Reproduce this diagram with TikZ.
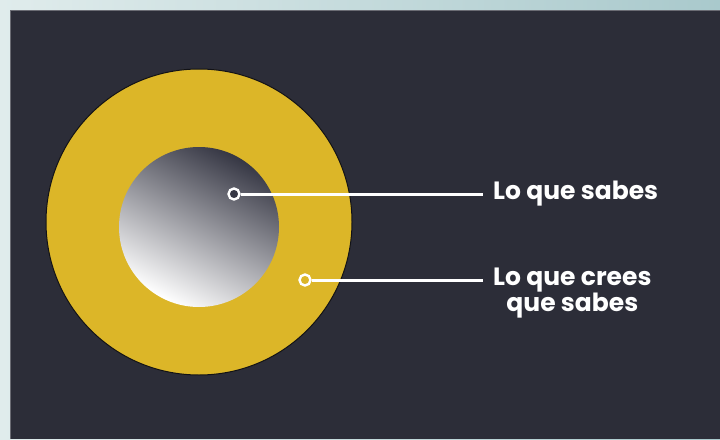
\documentclass[tikz,border=0pt]{standalone}
\usepackage{fontspec}
\newfontfamily\tagfont{Poppins}
\usetikzlibrary{positioning}

\definecolor{panel}{HTML}{2C2D38}
\definecolor{ring}{HTML}{DCB628}
\definecolor{core}{HTML}{363744}
\definecolor{frameA}{HTML}{E0ECEC}
\definecolor{frameB}{HTML}{A9C9CC}

\tikzset{
  markdot/.style={circle, draw=white, line width=2.4pt, fill=#1, inner sep=0pt, minimum size=11pt},
  leadline/.style={white, line width=3pt},
  labeltext/.style={text=white, font=\tagfont\bfseries\fontsize{25}{24}\selectfont, align=center, inner sep=0pt}
}

\begin{document}
\begin{tikzpicture}[x=1pt, y=-1pt]
  \useasboundingbox (0,0) rectangle (720,439);
  % frame and panel
  \shade[left color=frameA, right color=frameB] (0,0) rectangle (720,439);
  \fill[panel] (10,10) rectangle (720,439);
  \draw[panel!70!white, line width=0.8pt] (10,439) -- (10,10) -- (720,10);

  % the two circles
  \fill[ring, draw=black!60!panel, line width=1pt] (199,222) circle[radius=153pt];
  \shade[top color=core, middle color=core!40!white, bottom color=white, shading angle=-28]
    (199,227) circle[radius=80pt];

  \node[markdot=core] (known) at (234,194) {};
  \node[markdot=ring] (believed) at (305,280) {};
  \coordinate (knownend) at (483,194);
  \coordinate (believedend) at (483,280);

  \node[labeltext, right=10pt of knownend] (knowtext) {Lo que sabes};
  \node[labeltext, right=10pt of believedend, anchor=north west, yshift=12pt] (thinktext) {Lo que crees\\que sabes};

  \draw[leadline] (known) -- (knownend);
  \draw[leadline] (believed) -- (believedend);
\end{tikzpicture}
\end{document}
